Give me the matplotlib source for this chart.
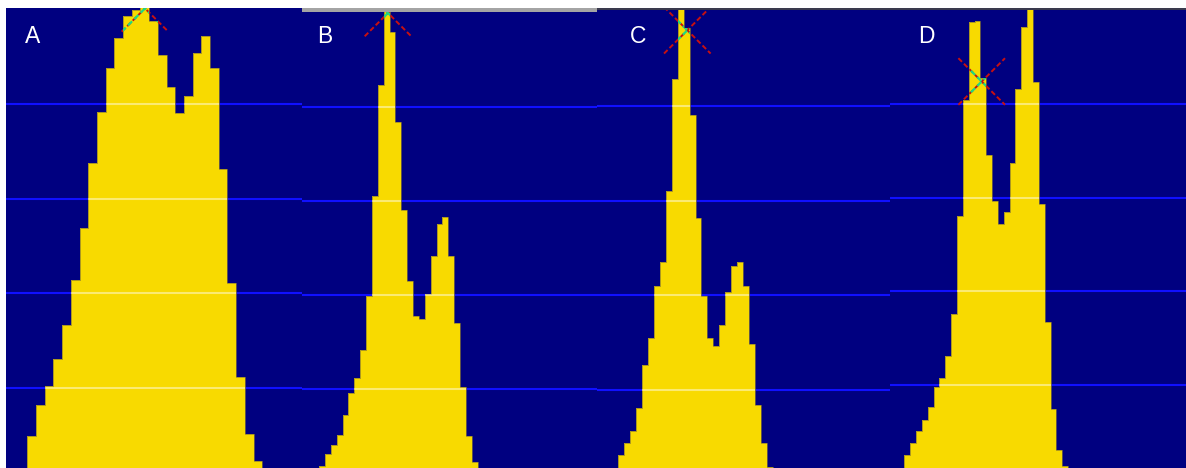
import numpy as np
import matplotlib
matplotlib.use("Agg")
import matplotlib.pyplot as plt
from matplotlib.patches import Rectangle

# --- data ---------------------------------------------------------------
panels = ["A", "B", "C", "D"]

# histogram counts per bin, left to right
counts_a = [49, 82, 102, 131, 167, 214, 269, 338, 392, 438, 470, 493, 499, 512,
            488, 452, 418, 390, 408, 454, 472, 438, 331, 211, 112, 51, 23]
counts_b = [18, 31, 40, 51, 72, 96, 112, 142, 199, 305, 423, 515, 480, 384,
            290, 215, 178, 174, 201, 242, 276, 283, 242, 170, 102, 50, 22]
counts_c = [31, 44, 57, 81, 126, 155, 210, 235, 310, 429, 505, 482, 390,
            282, 199, 155, 146, 169, 203, 231, 235, 210, 149, 84, 44, 19]
counts_d = [25, 38, 51, 63, 76, 98, 108, 131, 176, 280, 404, 487, 489, 428,
            346, 296, 272, 285, 337, 416, 482, 510, 424, 293, 167, 74, 31, 13]

# marked peak position (bin units, count)
peak_x = [13.53, 11.73, 11.62, 13.23]
peak_y = [501, 500, 480, 424]

grid_levels = [100, 200, 300, 400]

# --- layout (figure pixels) ---------------------------------------------
W, H = 1186, 468
# left, top, right of each panel
boxes = [(6, 8, 302), (302, 12, 597), (597, 10, 890), (890, 10, 1186)]
# pixel of first bin edge, bin width in px
bin_px = [(27.3, 8.7), (319, 5.88), (618.3, 5.94), (904.3, 5.85)]
# pixel row of the 100 line, px per count
cnt_px = [(388, 0.9467), (389, 0.94), (390, 0.9467), (385, 0.9367)]
label_px = [(25, 43.3), (316.7, 42.7), (630, 43.3), (917.7, 42.7)]

NAVY = "#000080"
YELLOW = "#f8da00"
BLUE = "#1010ff"
RED = "#c81010"
GREEN = "#20d880"
ARM = 23.3  # half size of the X marker in px

fig = plt.figure(figsize=(W / 100, H / 100), dpi=100, facecolor="white")

all_counts = [counts_a, counts_b, counts_c, counts_d]

for i, name in enumerate(panels):
    left, top, right = boxes[i]
    ax = fig.add_axes([left / W, 0, (right - left) / W, (H - top) / H])
    ax.set_facecolor(NAVY)
    for s in ax.spines.values():
        s.set_visible(False)
    ax.set_xticks([])
    ax.set_yticks([])

    e0, bw = bin_px[i]
    g100, s = cnt_px[i]
    ax.set_xlim((left - e0) / bw, (right - e0) / bw)
    ax.set_ylim(100 + (g100 - H) / s, 100 + (g100 - top) / s)

    counts = all_counts[i]
    edges = np.arange(len(counts) + 1)

    # grid lines behind the bars
    for g in grid_levels:
        ax.axhline(g, color=BLUE, lw=1.5, zorder=1)

    sp = ax.stairs(counts, edges, baseline=0, fill=True, color=YELLOW,
                   lw=0, zorder=2)
    ax.stairs(counts, edges, baseline=0, fill=False, color="#8a7a30",
              lw=0.5, zorder=2.5)

    # grid lines show faintly through the bars
    for g in grid_levels:
        gl = ax.axhline(g, color="white", alpha=0.45, lw=1.5, zorder=3)
        gl.set_clip_path(sp)

    # dashed X at the peak: red on background, green on the bars
    rx = ARM / bw
    ry = ARM / s
    cx, cy = peak_x[i], peak_y[i]
    for sign in (1, -1):
        xs = [cx - rx, cx + rx]
        ys = [cy - sign * ry, cy + sign * ry]
        ax.plot(xs, ys, color=RED, lw=1.4, dashes=(2.6, 1.4), zorder=4)
        gline, = ax.plot(xs, ys, color=GREEN, lw=1.6, dashes=(2.6, 1.4),
                         zorder=5)
        gline.set_clip_path(sp)

    lx, ly = label_px[i]
    fig.text(lx / W, 1 - ly / H, name, color="white", fontsize=16.5,
             family="Liberation Sans", ha="left", va="baseline")

# thin frame strips on top of the screenshots
fig.add_artist(Rectangle((302 / W, 1 - 12 / H), 295 / W, 4 / H,
                         transform=fig.transFigure, color="#a4a4a4", lw=0))
for x0, x1 in [(597, 890), (890, 1186)]:
    fig.add_artist(Rectangle((x0 / W, 1 - 10 / H), (x1 - x0) / W, 2 / H,
                             transform=fig.transFigure, color="#3a3a4e", lw=0))

fig.savefig("out.png", dpi=100, facecolor="white")
